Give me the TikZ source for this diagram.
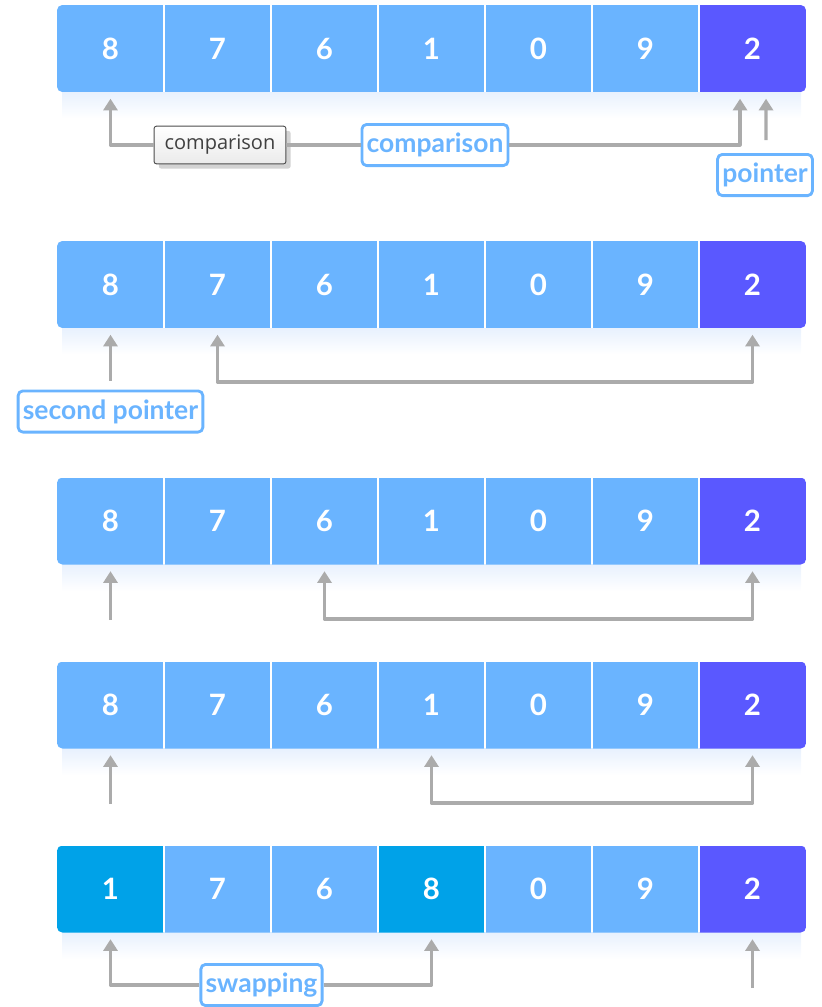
\documentclass[tikz,border=0pt]{standalone}
\usepackage{fontspec}
\setmainfont{Lato}
\newfontfamily\tipfont{Open Sans}
\usetikzlibrary{arrows.meta,shadows}
\definecolor{cellblue}{HTML}{6AB4FF}
\definecolor{pivotviolet}{HTML}{5A58FF}
\definecolor{swapblue}{HTML}{00A2E8}
\definecolor{labelblue}{HTML}{6AB4FF}
\definecolor{linkgray}{HTML}{ABABAB}
\definecolor{glowblue}{HTML}{E8F1FE}

\begin{document}
\begin{tikzpicture}[
  x=0.85pt,
  y=-0.85pt,
  line join=round,
  ptip/.tip={Triangle[length=10pt,width=12pt]},
  cell/.style={inner sep=0pt,minimum width=90.95pt,minimum height=73.95pt,text=white,font=\fontsize{25}{25}\selectfont\bfseries},
  sep/.style={draw=white,line width=1.4pt},
  glow/.style={top color=glowblue,bottom color=white,draw=none},
  link/.style={draw=linkgray,line width=2.7pt,-ptip},
  tag/.style={draw=labelblue,line width=2.4pt,rounded corners=4pt,fill=white,text=labelblue,font=\fontsize{22.5}{22.5}\selectfont\bfseries,inner xsep=4pt,minimum height=35pt},
  tooltip/.style={draw=black!70,line width=0.8pt,rounded corners=2pt,top color=white,bottom color=black!8,text=black!75,font=\tipfont\fontsize{17}{17}\selectfont,inner xsep=9pt,minimum height=32pt,drop shadow={shadow xshift=4pt,shadow yshift=-4pt,opacity=0.35}}
]
  \newcommand{\drawdigitrow}[3]{%
    \shade[glow] ({62},{#2+43.5}) rectangle ({801},{#2+70});
    \begin{scope}
      \clip[rounded corners=4.5pt] ({57},{#2-43.5}) rectangle ({806},{#2+43.5});
      \foreach \v/\col [count=\i] in {#3} {
        \node[cell,fill=\col] (c-#1-\i) at ({110.5+107*(\i-1)},{#2}) {\v};
      }
      \foreach \i in {1,...,6} {
        \draw[sep] (c-#1-\i.north east) -- (c-#1-\i.south east);
      }
    \end{scope}
  }

  \useasboundingbox (0,0) rectangle (822,1007);

  % The five states of the array, top to bottom.
  \drawdigitrow{1}{48.5}{8/cellblue,7/cellblue,6/cellblue,1/cellblue,0/cellblue,9/cellblue,2/pivotviolet}
  \drawdigitrow{2}{284.5}{8/cellblue,7/cellblue,6/cellblue,1/cellblue,0/cellblue,9/cellblue,2/pivotviolet}
  \drawdigitrow{3}{521}{8/cellblue,7/cellblue,6/cellblue,1/cellblue,0/cellblue,9/cellblue,2/pivotviolet}
  \drawdigitrow{4}{705}{8/cellblue,7/cellblue,6/cellblue,1/cellblue,0/cellblue,9/cellblue,2/pivotviolet}
  \drawdigitrow{5}{889}{1/swapblue,7/cellblue,6/cellblue,8/swapblue,0/cellblue,9/cellblue,2/pivotviolet}

  % Row 1: first comparison against the pivot.
  \node[tooltip] (tip) at (220,145) {comparison};
  \node[tag] (cmp) at (435,145) {comparison};
  \node[tag] (ptr) at (765,175) {pointer};
  \coordinate (p1) at (766,140);
  \draw[link,arrows=ptip-] ([yshift=-5.5pt]c-1-1.south) |- (tip.west);
  \draw[link,arrows=-] (tip.east) -- (cmp.west);
  \draw[link] (cmp.east) -| ([xshift=-10.6pt,yshift=-5.5pt]c-1-7.south);
  \draw[link] (p1) -- ([xshift=11.5pt,yshift=-5.5pt]c-1-7.south);

  % Row 2.
  \node[tag] (sec) at (110.5,411.5) {second pointer};
  \coordinate (m2) at (0,382);
  \draw[link] ([yshift=7.5pt]sec.north) -- ([yshift=-5.5pt]c-2-1.south);
  \draw[link,arrows=ptip-ptip] ([yshift=-5.5pt]c-2-2.south) -- (c-2-2.south |- m2) -| ([yshift=-5.5pt]c-2-7.south);

  % Row 3.
  \coordinate (t3) at (110.5,620);
  \coordinate (m3) at (0,619);
  \draw[link] (t3) -- ([yshift=-5.5pt]c-3-1.south);
  \draw[link,arrows=ptip-ptip] ([yshift=-5.5pt]c-3-3.south) -- (c-3-3.south |- m3) -| ([yshift=-5.5pt]c-3-7.south);

  % Row 4.
  \coordinate (t4) at (110.5,804);
  \coordinate (m4) at (0,803);
  \draw[link] (t4) -- ([yshift=-5.5pt]c-4-1.south);
  \draw[link,arrows=ptip-ptip] ([yshift=-5.5pt]c-4-4.south) -- (c-4-4.south |- m4) -| ([yshift=-5.5pt]c-4-7.south);

  % Row 5: swap done.
  \node[tag] (swp) at (261.5,985) {swapping};
  \coordinate (t5) at (752.5,988);
  \draw[link,arrows=ptip-] ([yshift=-5.5pt]c-5-1.south) |- (swp.west);
  \draw[link] (swp.east) -| ([yshift=-5.5pt]c-5-4.south);
  \draw[link] (t5) -- ([yshift=-5.5pt]c-5-7.south);
\end{tikzpicture}
\end{document}
